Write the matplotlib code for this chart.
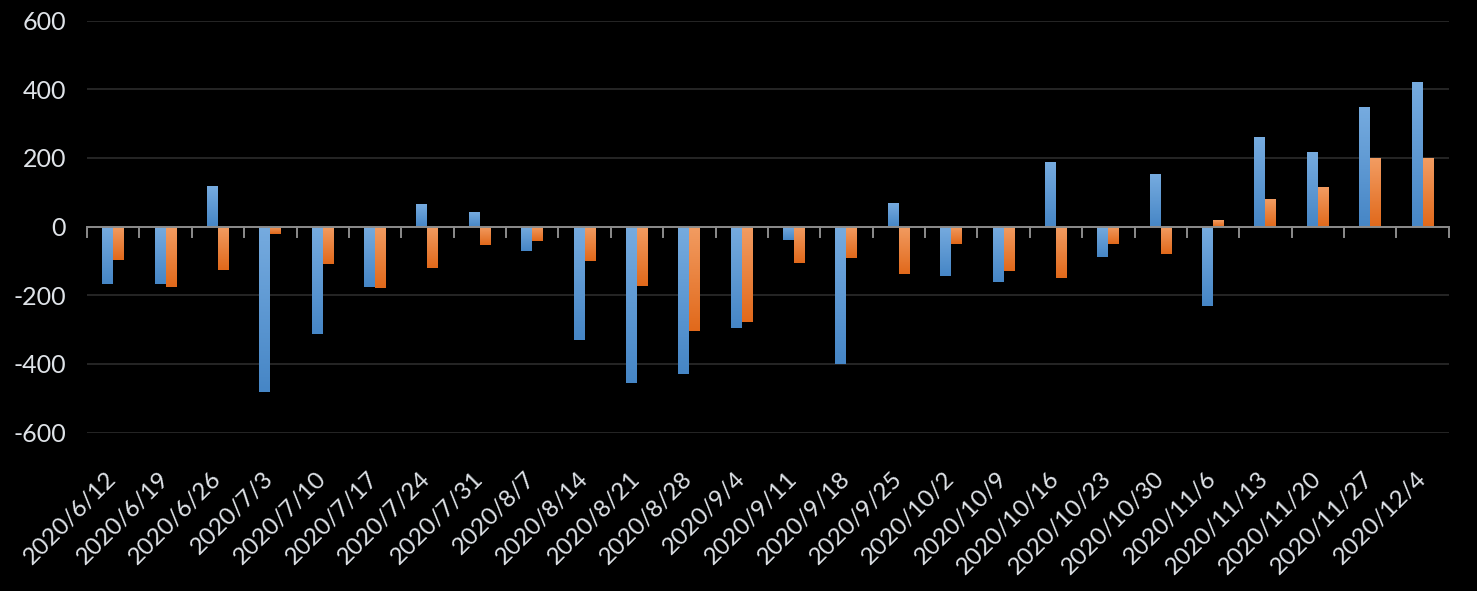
import matplotlib
matplotlib.use("Agg")
import matplotlib.pyplot as plt
import matplotlib.transforms as mtransforms
import numpy as np
from matplotlib.colors import LinearSegmentedColormap

# Weekly dates (category axis)
dates = [
    "2020/6/12", "2020/6/19", "2020/6/26", "2020/7/3", "2020/7/10", "2020/7/17",
    "2020/7/24", "2020/7/31", "2020/8/7", "2020/8/14", "2020/8/21", "2020/8/28",
    "2020/9/4", "2020/9/11", "2020/9/18", "2020/9/25", "2020/10/2", "2020/10/9",
    "2020/10/16", "2020/10/23", "2020/10/30", "2020/11/6", "2020/11/13",
    "2020/11/20", "2020/11/27", "2020/12/4",
]
series_blue = [
    -167, -167, 118, -481, -313, -177, 66, 43, -71, -330, -455, -429, -295,
    -39, -400, 69, -144, -161, 188, -88, 153, -230, 261, 217, 349, 421,
]
series_orange = [
    -97, -176, -126, -21, -109, -179, -120, -53, -42, -100, -173, -304, -278,
    -106, -91, -138, -50, -129, -149, -50, -80, 20, 81, 116, 200, 200,
]
y_ticks = [-600, -400, -200, 0, 200, 400, 600]

BG = "#000000"
TEXT = "#dfe3e8"
BLUE_GRAD = LinearSegmentedColormap.from_list("b", ["#4686c6", "#76abdf"])
ORANGE_GRAD = LinearSegmentedColormap.from_list("o", ["#e1691b", "#f29c62"])

plt.rcParams["font.family"] = ["Lato", "DejaVu Sans"]

fig = plt.figure(figsize=(14.77, 5.91), dpi=100)
fig.patch.set_facecolor(BG)
ax = fig.add_axes([0.0589, 0.268, 0.922, 0.697])
ax.set_facecolor(BG)

x = np.arange(len(dates))
w = 0.21
bars_b = ax.bar(x - w / 2, series_blue, width=w, color="none", zorder=3)
bars_o = ax.bar(x + w / 2, series_orange, width=w, color="none", zorder=3)

# vertical gradient fill, lighter at the top of each bar
grad = np.linspace(0, 1, 64).reshape(-1, 1)
for bars, cmap in ((bars_b, BLUE_GRAD), (bars_o, ORANGE_GRAD)):
    for b in bars:
        x0, y0 = b.get_x(), b.get_y()
        bw, bh = b.get_width(), b.get_height()
        lo, hi = min(y0, y0 + bh), max(y0, y0 + bh)
        im = ax.imshow(grad, cmap=cmap, origin="lower", aspect="auto",
                       extent=(x0, x0 + bw, lo, hi), zorder=3)
        im.set_clip_path(b)

# gridlines
for t in y_ticks:
    if t != 0:
        ax.axhline(t, color="#262626", linewidth=1.4, zorder=1)
ax.axhline(0, color="#8c8c8c", linewidth=1.4, zorder=4)

# category boundary ticks below the zero line
for b in np.arange(-0.5, len(dates), 1.0):
    ax.plot([b, b], [0, -30], color="#8c8c8c", linewidth=1.4, zorder=4,
            clip_on=False)

ax.set_xlim(-0.5, len(dates) - 0.5)
ax.set_ylim(-600, 600)
ax.set_yticks(y_ticks)
ax.set_yticklabels([str(t) for t in y_ticks], color=TEXT, fontsize=18)
ax.set_xticks(x)
ax.set_xticklabels(dates, rotation=45, ha="right", va="center",
                   rotation_mode="anchor", color=TEXT, fontsize=17.5)
shift = mtransforms.ScaledTranslation(27 / 100, 0, fig.dpi_scale_trans)
for lab in ax.get_xticklabels():
    lab.set_transform(lab.get_transform() + shift)
ax.tick_params(axis="both", length=0)
ax.tick_params(axis="x", pad=31)
ax.tick_params(axis="y", pad=15)
for s in ax.spines.values():
    s.set_visible(False)

fig.savefig("out.png", dpi=100, facecolor=BG)
